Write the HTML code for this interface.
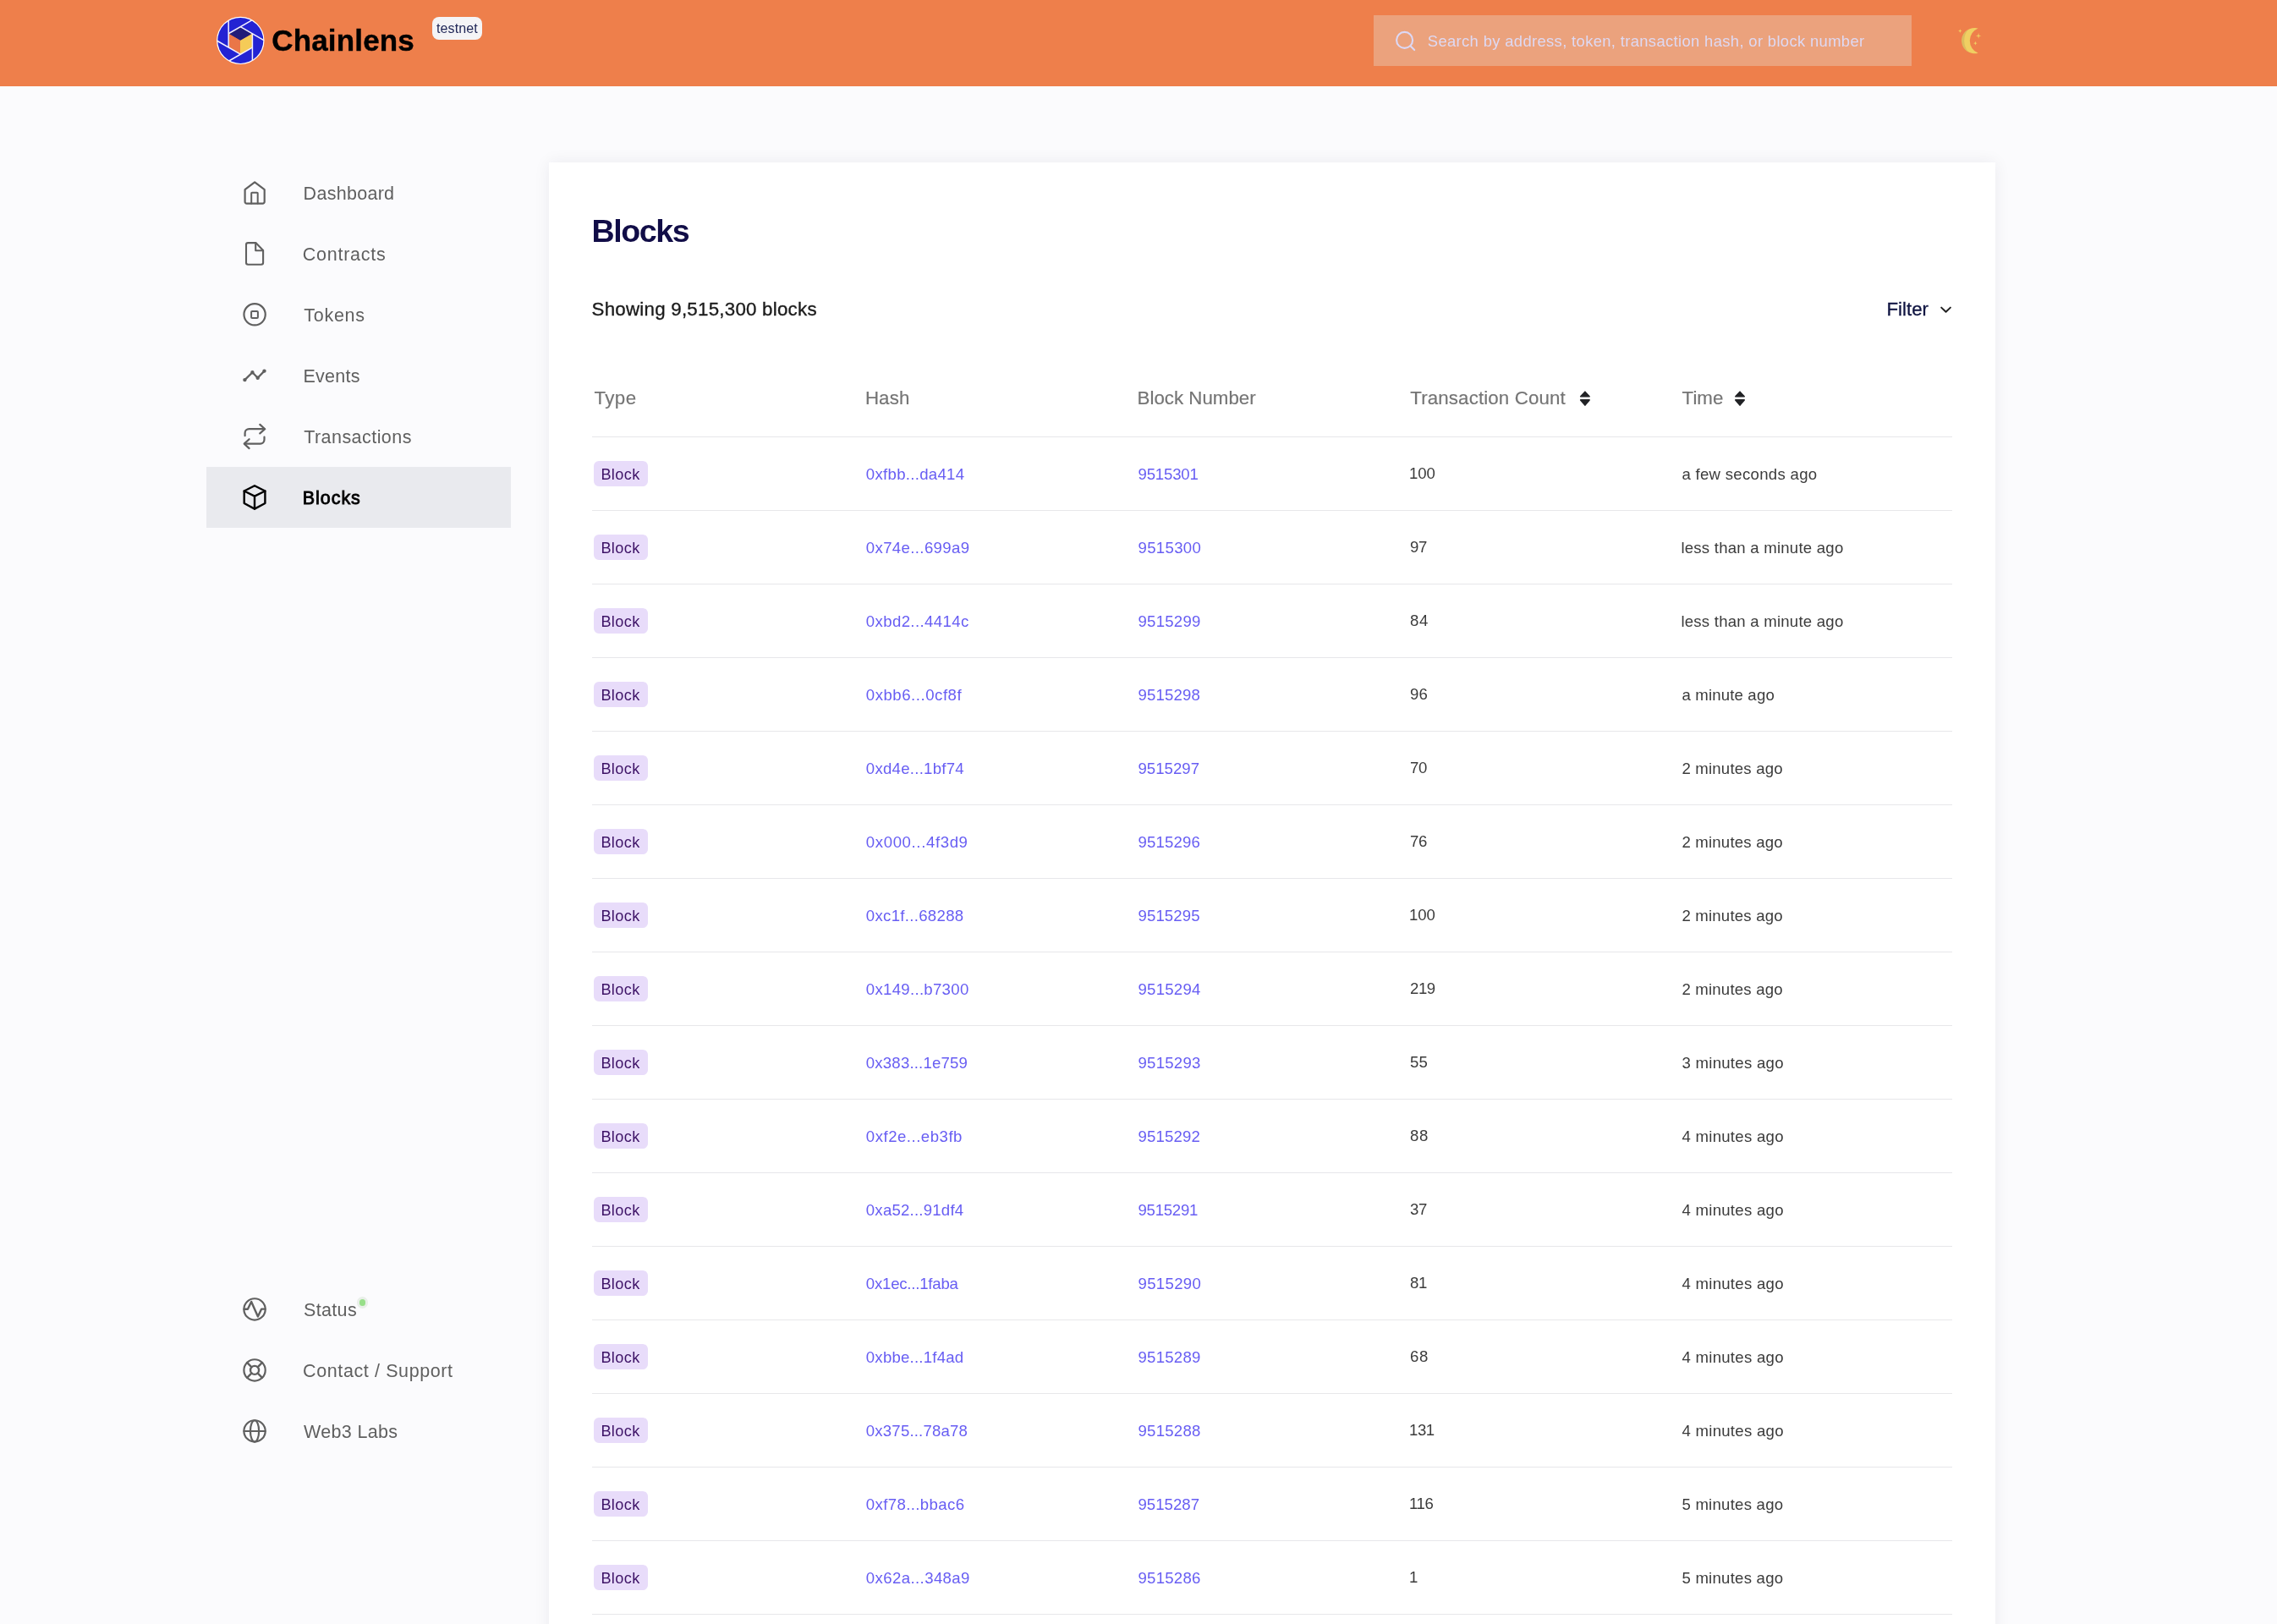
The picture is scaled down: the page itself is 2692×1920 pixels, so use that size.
<!DOCTYPE html>
<html lang="en"><head><meta charset="utf-8"><title>Chainlens - Blocks</title>
<style>
html,body{margin:0;padding:0;}
body{width:2692px;height:1920px;background:#fbfbfd;font-family:"Liberation Sans", sans-serif;}
#page{position:relative;width:2692px;height:1920px;overflow:hidden;background:#fbfbfd;}
#txt{position:absolute;left:0;top:0;width:2692px;height:1920px;will-change:transform;}
.t{position:absolute;white-space:pre;line-height:1;font-family:"Liberation Sans", sans-serif;}
</style></head><body>
<div id="page">
<div style="position:absolute;left:0;top:0;width:2692px;height:101.6px;background:#ee7f4b"></div>
<div style="position:absolute;left:1624px;top:18px;width:636px;height:60px;background:#eba27d"></div>
<div style="position:absolute;left:510.8px;top:20.1px;width:59px;height:26.8px;border-radius:8px;background:#f4f4f6"></div>
<div style="position:absolute;left:244px;top:552px;width:360px;height:72px;background:#e9eaee"></div>
<div style="position:absolute;left:649px;top:192px;width:1710px;height:1760px;background:#fff;box-shadow:0 0 18px rgba(30,30,60,0.07)"></div>
<div style="position:absolute;left:700px;top:516px;width:1608px;height:1px;background:#e7e7ea"></div>
<div style="position:absolute;left:700px;top:603px;width:1608px;height:1px;background:#e7e7ea"></div>
<div style="position:absolute;left:700px;top:690px;width:1608px;height:1px;background:#e7e7ea"></div>
<div style="position:absolute;left:700px;top:777px;width:1608px;height:1px;background:#e7e7ea"></div>
<div style="position:absolute;left:700px;top:864px;width:1608px;height:1px;background:#e7e7ea"></div>
<div style="position:absolute;left:700px;top:951px;width:1608px;height:1px;background:#e7e7ea"></div>
<div style="position:absolute;left:700px;top:1038px;width:1608px;height:1px;background:#e7e7ea"></div>
<div style="position:absolute;left:700px;top:1125px;width:1608px;height:1px;background:#e7e7ea"></div>
<div style="position:absolute;left:700px;top:1212px;width:1608px;height:1px;background:#e7e7ea"></div>
<div style="position:absolute;left:700px;top:1299px;width:1608px;height:1px;background:#e7e7ea"></div>
<div style="position:absolute;left:700px;top:1386px;width:1608px;height:1px;background:#e7e7ea"></div>
<div style="position:absolute;left:700px;top:1473px;width:1608px;height:1px;background:#e7e7ea"></div>
<div style="position:absolute;left:700px;top:1560px;width:1608px;height:1px;background:#e7e7ea"></div>
<div style="position:absolute;left:700px;top:1647px;width:1608px;height:1px;background:#e7e7ea"></div>
<div style="position:absolute;left:700px;top:1734px;width:1608px;height:1px;background:#e7e7ea"></div>
<div style="position:absolute;left:700px;top:1821px;width:1608px;height:1px;background:#e7e7ea"></div>
<div style="position:absolute;left:700px;top:1908px;width:1608px;height:1px;background:#e7e7ea"></div>
<div style="position:absolute;left:702px;top:545px;width:64px;height:30px;border-radius:6px;background:#e8dcfa"></div>
<div style="position:absolute;left:702px;top:632px;width:64px;height:30px;border-radius:6px;background:#e8dcfa"></div>
<div style="position:absolute;left:702px;top:719px;width:64px;height:30px;border-radius:6px;background:#e8dcfa"></div>
<div style="position:absolute;left:702px;top:806px;width:64px;height:30px;border-radius:6px;background:#e8dcfa"></div>
<div style="position:absolute;left:702px;top:893px;width:64px;height:30px;border-radius:6px;background:#e8dcfa"></div>
<div style="position:absolute;left:702px;top:980px;width:64px;height:30px;border-radius:6px;background:#e8dcfa"></div>
<div style="position:absolute;left:702px;top:1067px;width:64px;height:30px;border-radius:6px;background:#e8dcfa"></div>
<div style="position:absolute;left:702px;top:1154px;width:64px;height:30px;border-radius:6px;background:#e8dcfa"></div>
<div style="position:absolute;left:702px;top:1241px;width:64px;height:30px;border-radius:6px;background:#e8dcfa"></div>
<div style="position:absolute;left:702px;top:1328px;width:64px;height:30px;border-radius:6px;background:#e8dcfa"></div>
<div style="position:absolute;left:702px;top:1415px;width:64px;height:30px;border-radius:6px;background:#e8dcfa"></div>
<div style="position:absolute;left:702px;top:1502px;width:64px;height:30px;border-radius:6px;background:#e8dcfa"></div>
<div style="position:absolute;left:702px;top:1589px;width:64px;height:30px;border-radius:6px;background:#e8dcfa"></div>
<div style="position:absolute;left:702px;top:1676px;width:64px;height:30px;border-radius:6px;background:#e8dcfa"></div>
<div style="position:absolute;left:702px;top:1763px;width:64px;height:30px;border-radius:6px;background:#e8dcfa"></div>
<div style="position:absolute;left:702px;top:1850px;width:64px;height:30px;border-radius:6px;background:#e8dcfa"></div>
<div style="position:absolute;left:421.8px;top:1533.3px;width:13.4px;height:13.4px;border-radius:50%;background:#e9efe9"></div>
<div style="position:absolute;left:424.9px;top:1536.4px;width:7.2px;height:7.2px;border-radius:50%;background:#98df8a"></div>
<svg width="2692" height="1920" viewBox="0 0 2692 1920" style="position:absolute;left:0;top:0" fill="none" stroke-linecap="round" stroke-linejoin="round">
<circle cx="284.3" cy="47.9" r="28.200000000000003" fill="#ffffff" stroke="none"/>
<circle cx="284.3" cy="47.9" r="27.0" fill="#2323d3" stroke="none"/>
<polygon points="284.30,31.60 298.42,39.75 298.42,56.05 284.30,64.20 270.18,56.05 270.18,39.75" fill="#ea7648" stroke="none"/>
<polygon points="284.30,31.60 298.42,39.75 284.30,47.90 270.18,39.75" fill="#211c79" stroke="none"/>
<polygon points="270.18,39.75 284.30,47.90 284.30,64.20 270.18,56.05" fill="#ea7648" stroke="none"/>
<polygon points="284.00,47.90 298.42,39.75 298.42,56.05 284.00,64.20" fill="#f5cb58" stroke="none"/>
<line x1="270.18" y1="39.75" x2="297.78" y2="23.82" stroke="#f3f1ff" stroke-width="1.5" stroke-linecap="butt"/>
<line x1="284.30" y1="31.60" x2="311.90" y2="47.53" stroke="#f3f1ff" stroke-width="1.5" stroke-linecap="butt"/>
<line x1="298.42" y1="39.75" x2="298.42" y2="71.62" stroke="#f3f1ff" stroke-width="1.5" stroke-linecap="butt"/>
<line x1="298.42" y1="56.05" x2="270.82" y2="71.98" stroke="#f3f1ff" stroke-width="1.5" stroke-linecap="butt"/>
<line x1="284.30" y1="64.20" x2="256.70" y2="48.27" stroke="#f3f1ff" stroke-width="1.5" stroke-linecap="butt"/>
<line x1="270.18" y1="56.05" x2="270.18" y2="24.18" stroke="#f3f1ff" stroke-width="1.5" stroke-linecap="butt"/>
<circle cx="1660.6" cy="47.4" r="9.5" stroke="#dcd8f5" stroke-width="2.1"/>
<line x1="1667.4" y1="54.3" x2="1672.2" y2="59.1" stroke="#dcd8f5" stroke-width="2.1"/>
<path d="M2338.6 33.4 A15.2 15.2 0 1 0 2338.6 62.8 A15.9 15.9 0 0 1 2328.8 48.1 A15.9 15.9 0 0 1 2338.6 33.4 Z" fill="#f0cf62" stroke="none"/>
<path d="M2327 34.8 A15.15 15.15 0 0 0 2327 61.4 A20.8 20.8 0 0 1 2327 34.8 Z" fill="#dcbc5e" stroke="none"/>
<path d="M2317.3 34.2 L2317.916 35.928000000000004 L2319.5 36.6 L2317.916 37.272 L2317.3 39.0 L2316.684 37.272 L2315.1000000000004 36.6 L2316.684 35.928000000000004 Z" fill="#f0cf62" stroke="none"/>
<path d="M2339.1 39.0 L2339.7799999999997 41.72 L2342.5 42.4 L2339.7799999999997 43.08 L2339.1 45.8 L2338.42 43.08 L2335.7 42.4 L2338.42 41.72 Z" fill="#f0cf62" stroke="none"/>
<path d="M2335.4 48.800000000000004 L2336.016 50.528000000000006 L2337.6 51.2 L2336.016 51.872 L2335.4 53.6 L2334.784 51.872 L2333.2000000000003 51.2 L2334.784 50.528000000000006 Z" fill="#f0cf62" stroke="none"/>
<g stroke="#606060" stroke-width="2.2">
<path d="M289.6 224.2 L301.15 215.3 L312.7 224.2 V238.5 a2.1 2.1 0 0 1 -2.1 2.1 H291.7 a2.1 2.1 0 0 1 -2.1 -2.1 Z"/>
<path d="M297.2 240.6 V228.5 a0.8 0.8 0 0 1 0.8 -0.8 h5.9 a0.8 0.8 0 0 1 0.8 0.8 V240.6" stroke-width="2"/>
<path d="M302.4 287.1 H293.2 a2.2 2.2 0 0 0 -2.2 2.2 V310.5 a2.2 2.2 0 0 0 2.2 2.2 H308.9 a2.2 2.2 0 0 0 2.2 -2.2 V295.9 Z" stroke-width="2.1"/>
<path d="M302.2 287.3 V296.2 H311" stroke-width="2.1"/>
<circle cx="301.1" cy="371.8" r="12.65"/>
<rect x="297.1" y="368.1" width="7.8" height="7.8" rx="1" stroke-width="2"/>
<polyline points="289.4,449.1 298.4,440.2 304.7,446.7 312.5,438.6" stroke-width="2.3"/>
<circle cx="289.4" cy="449.1" r="1.2" fill="#606060" stroke-width="2"/>
<circle cx="298.4" cy="440.2" r="1.2" fill="#606060" stroke-width="2"/>
<circle cx="304.7" cy="446.7" r="1.2" fill="#606060" stroke-width="2"/>
<circle cx="312.5" cy="438.6" r="1.2" fill="#606060" stroke-width="2"/>
<path d="M289.6 515.2 V512.0 a4.8 4.8 0 0 1 4.8 -4.8 H312.6"/>
<path d="M307.3 501.9 L313.2 507.2 L307.3 512.4"/>
<path d="M312.5 516.7 V519.8 a4.8 4.8 0 0 1 -4.8 4.8 H289.3"/>
<path d="M294.6 519.2 L288.7 524.6 L294.6 530.1"/>
</g>
<g stroke="#000" stroke-width="2.4">
<path d="M301 574.2 L313.4 580.5 V595 L301 601.6 L288.7 595 V580.5 Z"/>
<path d="M288.7 580.5 L301 586.6 L313.4 580.5 M301 586.6 V601.6"/>
</g>
<g stroke="#606060" stroke-width="2.2">
<circle cx="301.05" cy="1547.9" r="12.65"/>
<polyline points="288.6,1547.7 292.9,1547.7 297.15,1538.9 304.9,1556.6 309.2,1547.6 313.5,1547.6" stroke-width="2.4"/>
<circle cx="301.05" cy="1619.9" r="12.65"/>
<circle cx="301.05" cy="1619.9" r="5" stroke-width="2.4"/>
<line x1="304.59" y1="1623.44" x2="309.99" y2="1628.84" stroke-width="2.4"/>
<line x1="304.59" y1="1616.36" x2="309.99" y2="1610.96" stroke-width="2.4"/>
<line x1="297.51" y1="1623.44" x2="292.11" y2="1628.84" stroke-width="2.4"/>
<line x1="297.51" y1="1616.36" x2="292.11" y2="1610.96" stroke-width="2.4"/>
<circle cx="301.05" cy="1691.9" r="12.65"/>
<line x1="288.4" y1="1691.9" x2="313.7" y2="1691.9" stroke-width="2"/>
<ellipse cx="301.05" cy="1691.9" rx="5.1" ry="12.65" stroke-width="2.2"/>
</g>
<polyline points="2295.2,363.6 2300.55,368.8 2305.9,363.6" stroke="#222" stroke-width="2"/>
<path d="M1868.7 468.7 L1873.9 463.2 L1879.1000000000001 468.7 Z" fill="#222326" stroke="#222326" stroke-width="1.6" />
<path d="M1868.7 472.9 L1873.9 479.1 L1879.1000000000001 472.9 Z" fill="#222326" stroke="#222326" stroke-width="1.6"/>
<path d="M2051.8 468.7 L2057.0 463.2 L2062.2 468.7 Z" fill="#222326" stroke="#222326" stroke-width="1.6" />
<path d="M2051.8 472.9 L2057.0 479.1 L2062.2 472.9 Z" fill="#222326" stroke="#222326" stroke-width="1.6"/>
</svg>
<div id="txt">
<span class="t" style="left:321.30px;top:30.40px;font-size:35.0px;color:#000000;letter-spacing:0.151px;font-weight:700;-webkit-text-stroke:0.4px #000000;">Chainlens</span>
<span class="t" style="left:516.00px;top:26.00px;font-size:16.0px;color:#1d2455;letter-spacing:0.102px;">testnet</span>
<span class="t" style="left:1687.80px;top:40.00px;font-size:18.4px;color:#ded9f3;letter-spacing:0.354px;">Search by address, token, transaction hash, or block number</span>
<span class="t" style="left:358.60px;top:219.00px;font-size:21.5px;color:#5f5f5f;letter-spacing:0.285px;">Dashboard</span>
<span class="t" style="left:357.80px;top:291.00px;font-size:21.5px;color:#5f5f5f;letter-spacing:0.731px;">Contracts</span>
<span class="t" style="left:359.20px;top:363.00px;font-size:21.5px;color:#5f5f5f;letter-spacing:0.746px;">Tokens</span>
<span class="t" style="left:358.40px;top:435.00px;font-size:21.5px;color:#5f5f5f;letter-spacing:0.284px;">Events</span>
<span class="t" style="left:359.20px;top:507.00px;font-size:21.5px;color:#5f5f5f;letter-spacing:0.452px;">Transactions</span>
<span class="t" style="left:357.80px;top:579.00px;font-size:21.5px;color:#000000;letter-spacing:0.945px;-webkit-text-stroke:0.85px #000000;">Blocks</span>
<span class="t" style="left:359.10px;top:1539.00px;font-size:21.5px;color:#5f5f5f;letter-spacing:0.320px;">Status</span>
<span class="t" style="left:358.10px;top:1611.00px;font-size:21.5px;color:#5f5f5f;letter-spacing:0.603px;">Contact / Support</span>
<span class="t" style="left:359.10px;top:1683.00px;font-size:21.5px;color:#5f5f5f;letter-spacing:0.310px;">Web3 Labs</span>
<span class="t" style="left:699.50px;top:255.00px;font-size:37.6px;color:#110d47;letter-spacing:-1.406px;font-weight:700;">Blocks</span>
<span class="t" style="left:699.60px;top:355.00px;font-size:22.3px;color:#1b1b1b;letter-spacing:0.245px;-webkit-text-stroke:0.35px #1b1b1b;">Showing 9,515,300 blocks</span>
<span class="t" style="left:2230.50px;top:355.00px;font-size:22.3px;color:#0e1340;letter-spacing:-0.024px;-webkit-text-stroke:0.3px #0e1340;">Filter</span>
<span class="t" style="left:702.40px;top:460.00px;font-size:22.3px;color:#757575;letter-spacing:0.454px;-webkit-text-stroke:0.2px #757575;">Type</span>
<span class="t" style="left:1022.90px;top:460.00px;font-size:22.3px;color:#757575;letter-spacing:0.116px;-webkit-text-stroke:0.2px #757575;">Hash</span>
<span class="t" style="left:1344.60px;top:460.00px;font-size:22.3px;color:#757575;letter-spacing:0.000px;-webkit-text-stroke:0.2px #757575;">Block Number</span>
<span class="t" style="left:1667.30px;top:460.00px;font-size:22.3px;color:#757575;letter-spacing:0.127px;-webkit-text-stroke:0.2px #757575;">Transaction Count</span>
<span class="t" style="left:1988.60px;top:460.00px;font-size:22.3px;color:#757575;letter-spacing:-0.006px;-webkit-text-stroke:0.2px #757575;">Time</span>
<span class="t" style="left:710.40px;top:552.00px;font-size:18.1px;color:#3d1266;letter-spacing:0.401px;">Block</span>
<span class="t" style="left:1023.80px;top:552.00px;font-size:18.6px;color:#675df3;letter-spacing:0.296px;">0xfbb...da414</span>
<span class="t" style="left:1345.50px;top:552.00px;font-size:18.6px;color:#675df3;letter-spacing:-0.174px;">9515301</span>
<span class="t" style="left:1666.00px;top:551.00px;font-size:18.6px;color:#3b3b3b;letter-spacing:-0.091px;">100</span>
<span class="t" style="left:1988.40px;top:552.00px;font-size:18.6px;color:#3b3b3b;letter-spacing:0.293px;">a few seconds ago</span>
<span class="t" style="left:710.40px;top:639.00px;font-size:18.1px;color:#3d1266;letter-spacing:0.401px;">Block</span>
<span class="t" style="left:1023.80px;top:639.00px;font-size:18.6px;color:#675df3;letter-spacing:0.365px;">0x74e...699a9</span>
<span class="t" style="left:1345.50px;top:639.00px;font-size:18.6px;color:#675df3;letter-spacing:0.326px;">9515300</span>
<span class="t" style="left:1667.00px;top:638.00px;font-size:18.6px;color:#3b3b3b;letter-spacing:-0.450px;">97</span>
<span class="t" style="left:1987.40px;top:639.00px;font-size:18.6px;color:#3b3b3b;letter-spacing:0.226px;">less than a minute ago</span>
<span class="t" style="left:710.40px;top:726.00px;font-size:18.1px;color:#3d1266;letter-spacing:0.401px;">Block</span>
<span class="t" style="left:1023.80px;top:726.00px;font-size:18.6px;color:#675df3;letter-spacing:0.381px;">0xbd2...4414c</span>
<span class="t" style="left:1345.50px;top:726.00px;font-size:18.6px;color:#675df3;letter-spacing:0.242px;">9515299</span>
<span class="t" style="left:1667.00px;top:725.00px;font-size:18.6px;color:#3b3b3b;letter-spacing:0.559px;">84</span>
<span class="t" style="left:1987.40px;top:726.00px;font-size:18.6px;color:#3b3b3b;letter-spacing:0.226px;">less than a minute ago</span>
<span class="t" style="left:710.40px;top:813.00px;font-size:18.1px;color:#3d1266;letter-spacing:0.401px;">Block</span>
<span class="t" style="left:1023.80px;top:813.00px;font-size:18.6px;color:#675df3;letter-spacing:0.533px;">0xbb6...0cf8f</span>
<span class="t" style="left:1345.50px;top:813.00px;font-size:18.6px;color:#675df3;letter-spacing:0.176px;">9515298</span>
<span class="t" style="left:1667.00px;top:812.00px;font-size:18.6px;color:#3b3b3b;letter-spacing:0.059px;">96</span>
<span class="t" style="left:1988.40px;top:813.00px;font-size:18.6px;color:#3b3b3b;letter-spacing:0.167px;">a minute ago</span>
<span class="t" style="left:710.40px;top:900.00px;font-size:18.1px;color:#3d1266;letter-spacing:0.401px;">Block</span>
<span class="t" style="left:1023.80px;top:900.00px;font-size:18.6px;color:#675df3;letter-spacing:0.263px;">0xd4e...1bf74</span>
<span class="t" style="left:1345.50px;top:900.00px;font-size:18.6px;color:#675df3;letter-spacing:0.026px;">9515297</span>
<span class="t" style="left:1667.00px;top:899.00px;font-size:18.6px;color:#3b3b3b;letter-spacing:-0.341px;">70</span>
<span class="t" style="left:1988.40px;top:900.00px;font-size:18.6px;color:#3b3b3b;letter-spacing:0.203px;">2 minutes ago</span>
<span class="t" style="left:710.40px;top:987.00px;font-size:18.1px;color:#3d1266;letter-spacing:0.401px;">Block</span>
<span class="t" style="left:1023.80px;top:987.00px;font-size:18.6px;color:#675df3;letter-spacing:0.621px;">0x000...4f3d9</span>
<span class="t" style="left:1345.50px;top:987.00px;font-size:18.6px;color:#675df3;letter-spacing:0.176px;">9515296</span>
<span class="t" style="left:1667.00px;top:986.00px;font-size:18.6px;color:#3b3b3b;letter-spacing:-0.450px;">76</span>
<span class="t" style="left:1988.40px;top:987.00px;font-size:18.6px;color:#3b3b3b;letter-spacing:0.203px;">2 minutes ago</span>
<span class="t" style="left:710.40px;top:1074.00px;font-size:18.1px;color:#3d1266;letter-spacing:0.401px;">Block</span>
<span class="t" style="left:1023.80px;top:1074.00px;font-size:18.6px;color:#675df3;letter-spacing:0.308px;">0xc1f...68288</span>
<span class="t" style="left:1345.50px;top:1074.00px;font-size:18.6px;color:#675df3;letter-spacing:0.109px;">9515295</span>
<span class="t" style="left:1666.00px;top:1073.00px;font-size:18.6px;color:#3b3b3b;letter-spacing:-0.091px;">100</span>
<span class="t" style="left:1988.40px;top:1074.00px;font-size:18.6px;color:#3b3b3b;letter-spacing:0.203px;">2 minutes ago</span>
<span class="t" style="left:710.40px;top:1161.00px;font-size:18.1px;color:#3d1266;letter-spacing:0.401px;">Block</span>
<span class="t" style="left:1023.80px;top:1161.00px;font-size:18.6px;color:#675df3;letter-spacing:0.298px;">0x149...b7300</span>
<span class="t" style="left:1345.50px;top:1161.00px;font-size:18.6px;color:#675df3;letter-spacing:0.242px;">9515294</span>
<span class="t" style="left:1667.00px;top:1160.00px;font-size:18.6px;color:#3b3b3b;letter-spacing:-0.450px;">219</span>
<span class="t" style="left:1988.40px;top:1161.00px;font-size:18.6px;color:#3b3b3b;letter-spacing:0.203px;">2 minutes ago</span>
<span class="t" style="left:710.40px;top:1248.00px;font-size:18.1px;color:#3d1266;letter-spacing:0.401px;">Block</span>
<span class="t" style="left:1023.80px;top:1248.00px;font-size:18.6px;color:#675df3;letter-spacing:0.190px;">0x383...1e759</span>
<span class="t" style="left:1345.50px;top:1248.00px;font-size:18.6px;color:#675df3;letter-spacing:0.242px;">9515293</span>
<span class="t" style="left:1667.00px;top:1247.00px;font-size:18.6px;color:#3b3b3b;letter-spacing:0.059px;">55</span>
<span class="t" style="left:1988.40px;top:1248.00px;font-size:18.6px;color:#3b3b3b;letter-spacing:0.278px;">3 minutes ago</span>
<span class="t" style="left:710.40px;top:1335.00px;font-size:18.1px;color:#3d1266;letter-spacing:0.401px;">Block</span>
<span class="t" style="left:1023.80px;top:1335.00px;font-size:18.6px;color:#675df3;letter-spacing:0.511px;">0xf2e...eb3fb</span>
<span class="t" style="left:1345.50px;top:1335.00px;font-size:18.6px;color:#675df3;letter-spacing:0.176px;">9515292</span>
<span class="t" style="left:1667.00px;top:1334.00px;font-size:18.6px;color:#3b3b3b;letter-spacing:0.559px;">88</span>
<span class="t" style="left:1988.40px;top:1335.00px;font-size:18.6px;color:#3b3b3b;letter-spacing:0.278px;">4 minutes ago</span>
<span class="t" style="left:710.40px;top:1422.00px;font-size:18.1px;color:#3d1266;letter-spacing:0.401px;">Block</span>
<span class="t" style="left:1023.80px;top:1422.00px;font-size:18.6px;color:#675df3;letter-spacing:0.221px;">0xa52...91df4</span>
<span class="t" style="left:1345.50px;top:1422.00px;font-size:18.6px;color:#675df3;letter-spacing:-0.258px;">9515291</span>
<span class="t" style="left:1667.00px;top:1421.00px;font-size:18.6px;color:#3b3b3b;letter-spacing:-0.341px;">37</span>
<span class="t" style="left:1988.40px;top:1422.00px;font-size:18.6px;color:#3b3b3b;letter-spacing:0.278px;">4 minutes ago</span>
<span class="t" style="left:710.40px;top:1509.00px;font-size:18.1px;color:#3d1266;letter-spacing:0.401px;">Block</span>
<span class="t" style="left:1023.80px;top:1509.00px;font-size:18.6px;color:#675df3;letter-spacing:-0.209px;">0x1ec...1faba</span>
<span class="t" style="left:1345.50px;top:1509.00px;font-size:18.6px;color:#675df3;letter-spacing:0.326px;">9515290</span>
<span class="t" style="left:1667.00px;top:1508.00px;font-size:18.6px;color:#3b3b3b;letter-spacing:-0.450px;">81</span>
<span class="t" style="left:1988.40px;top:1509.00px;font-size:18.6px;color:#3b3b3b;letter-spacing:0.278px;">4 minutes ago</span>
<span class="t" style="left:710.40px;top:1596.00px;font-size:18.1px;color:#3d1266;letter-spacing:0.401px;">Block</span>
<span class="t" style="left:1023.80px;top:1596.00px;font-size:18.6px;color:#675df3;letter-spacing:0.221px;">0xbbe...1f4ad</span>
<span class="t" style="left:1345.50px;top:1596.00px;font-size:18.6px;color:#675df3;letter-spacing:0.242px;">9515289</span>
<span class="t" style="left:1667.00px;top:1595.00px;font-size:18.6px;color:#3b3b3b;letter-spacing:0.559px;">68</span>
<span class="t" style="left:1988.40px;top:1596.00px;font-size:18.6px;color:#3b3b3b;letter-spacing:0.278px;">4 minutes ago</span>
<span class="t" style="left:710.40px;top:1683.00px;font-size:18.1px;color:#3d1266;letter-spacing:0.401px;">Block</span>
<span class="t" style="left:1023.80px;top:1683.00px;font-size:18.6px;color:#675df3;letter-spacing:0.190px;">0x375...78a78</span>
<span class="t" style="left:1345.50px;top:1683.00px;font-size:18.6px;color:#675df3;letter-spacing:0.242px;">9515288</span>
<span class="t" style="left:1666.00px;top:1682.00px;font-size:18.6px;color:#3b3b3b;letter-spacing:-0.450px;">131</span>
<span class="t" style="left:1988.40px;top:1683.00px;font-size:18.6px;color:#3b3b3b;letter-spacing:0.278px;">4 minutes ago</span>
<span class="t" style="left:710.40px;top:1770.00px;font-size:18.1px;color:#3d1266;letter-spacing:0.401px;">Block</span>
<span class="t" style="left:1023.80px;top:1770.00px;font-size:18.6px;color:#675df3;letter-spacing:0.383px;">0xf78...bbac6</span>
<span class="t" style="left:1345.50px;top:1770.00px;font-size:18.6px;color:#675df3;letter-spacing:0.026px;">9515287</span>
<span class="t" style="left:1666.00px;top:1769.00px;font-size:18.6px;color:#3b3b3b;letter-spacing:-0.450px;">116</span>
<span class="t" style="left:1988.40px;top:1770.00px;font-size:18.6px;color:#3b3b3b;letter-spacing:0.245px;">5 minutes ago</span>
<span class="t" style="left:710.40px;top:1857.00px;font-size:18.1px;color:#3d1266;letter-spacing:0.401px;">Block</span>
<span class="t" style="left:1023.80px;top:1857.00px;font-size:18.6px;color:#675df3;letter-spacing:0.398px;">0x62a...348a9</span>
<span class="t" style="left:1345.50px;top:1857.00px;font-size:18.6px;color:#675df3;letter-spacing:0.242px;">9515286</span>
<span class="t" style="left:1666.00px;top:1856.00px;font-size:18.6px;color:#3b3b3b;letter-spacing:0.000px;">1</span>
<span class="t" style="left:1988.40px;top:1857.00px;font-size:18.6px;color:#3b3b3b;letter-spacing:0.245px;">5 minutes ago</span>
</div>
</div>
</body></html>
